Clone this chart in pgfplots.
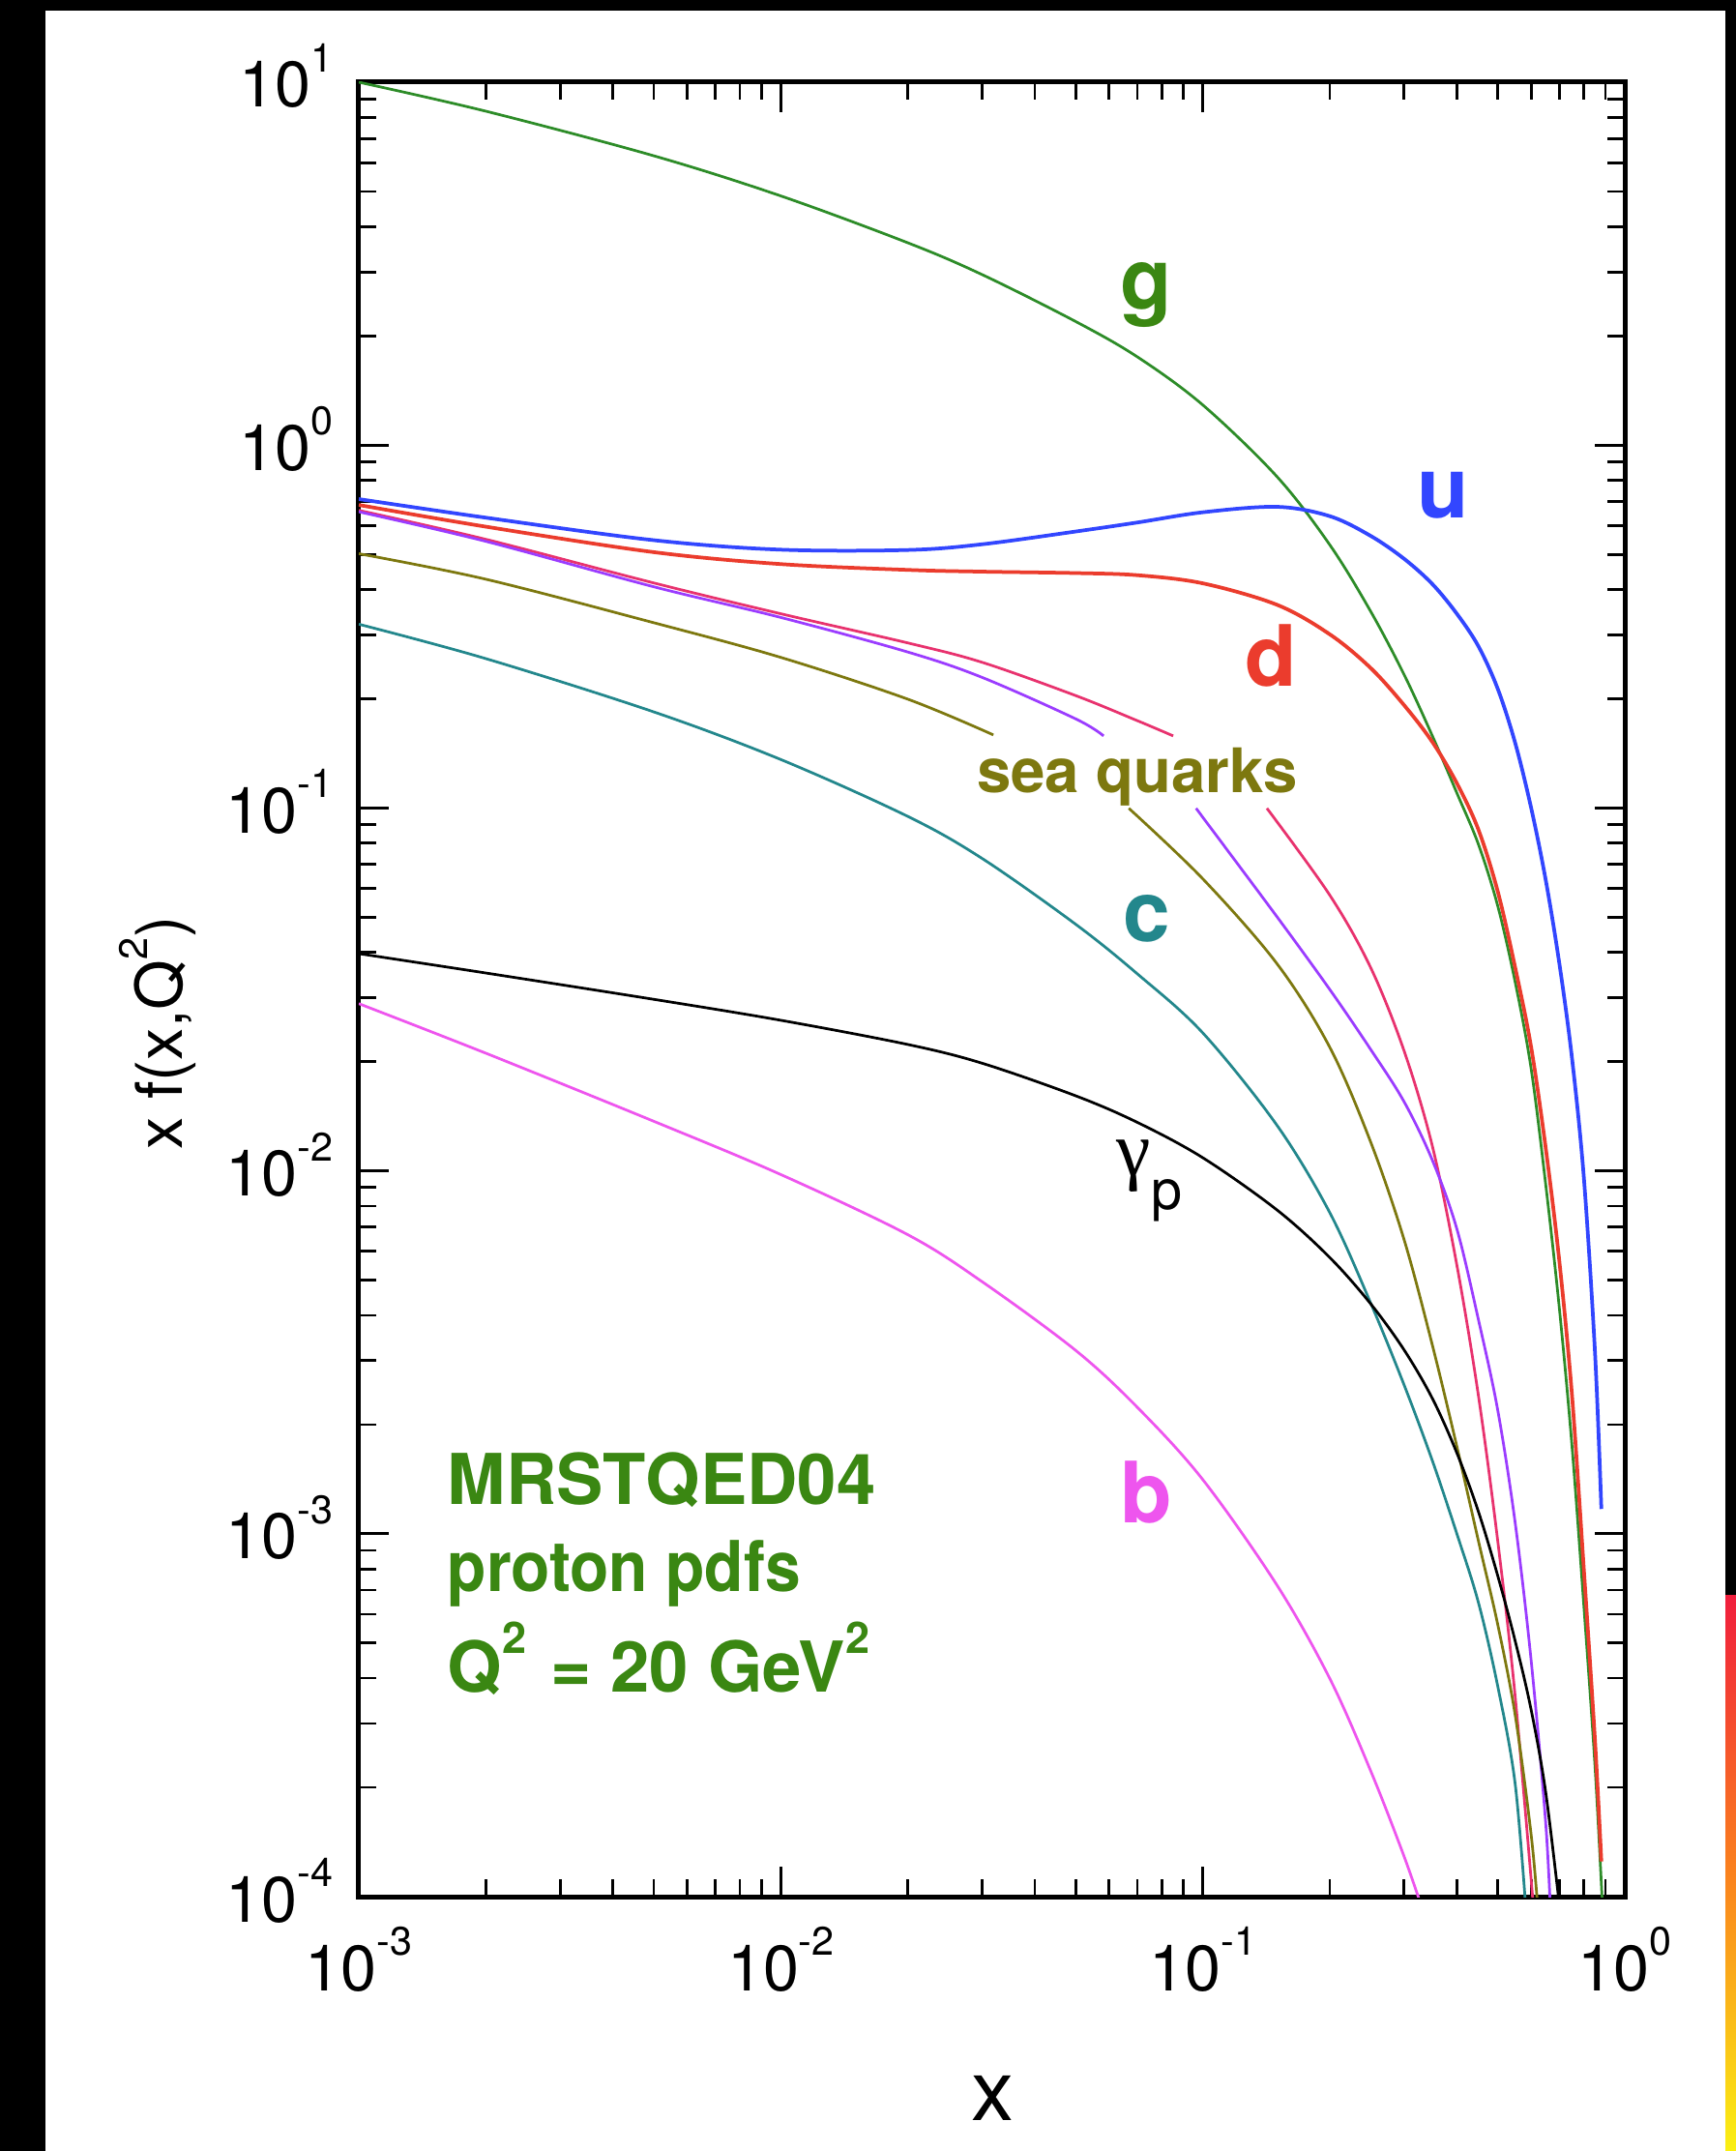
\documentclass[border=0pt]{standalone}
\usepackage{fontspec}
\setmainfont{TeX Gyre Heros}
\newfontfamily\grk{Liberation Serif}
\usepackage{graphicx}
\usepackage{pgfplots}
\pgfplotsset{compat=1.18}
\newcommand{\ex}[1]{\raisebox{0.55em}{\scalebox{0.62}{#1}}}
\definecolor{cg}{RGB}{45,140,40}
\definecolor{cgt}{RGB}{58,135,18}
\definecolor{cu}{RGB}{50,70,255}
\definecolor{cd}{RGB}{235,60,45}
\definecolor{cub}{RGB}{232,50,110}
\definecolor{cdb}{RGB}{155,60,255}
\definecolor{cs}{RGB}{125,120,15}
\definecolor{cc}{RGB}{35,135,140}
\definecolor{cbb}{RGB}{238,85,238}
\definecolor{sR}{RGB}{240,30,60}
\definecolor{sO}{RGB}{250,130,30}
\definecolor{sY}{RGB}{250,240,20}
\begin{document}
\begin{tikzpicture}
\useasboundingbox (0,0) rectangle (359pt,444.8pt);
\fill[black] (0,0) rectangle (359pt,444.8pt);
\fill[white] (9.34pt,0) rectangle (356.8pt,442.66pt);
\shade[top color=sR, bottom color=sY, middle color=sO] (356.8pt,0) rectangle (359pt,114.8pt);
\begin{axis}[
  at={(74.2pt,52.6pt)}, anchor=south west,
  scale only axis, width=261.8pt, height=375.2pt,
  xmode=log, ymode=log,
  xmin=1e-3, xmax=1, ymin=1e-4, ymax=10,
  xtick={0.001,0.01,0.1,1},
  xticklabels={10\ex{-3},10\ex{-2},10\ex{-1},10\ex{0}},
  ytick={1e-4,1e-3,0.01,0.1,1,10},
  yticklabels={10\ex{-4},10\ex{-3},10\ex{-2},10\ex{-1},10\ex{0},10\ex{1}},
  minor xtick={0.002,0.003,0.004,0.005,0.006,0.007,0.008,0.009,0.02,0.03,0.04,0.05,0.06,0.07,0.08,0.09,0.2,0.3,0.4,0.5,0.6,0.7,0.8,0.9},
  minor ytick={2e-4,3e-4,4e-4,5e-4,6e-4,7e-4,8e-4,9e-4,2e-3,3e-3,4e-3,5e-3,6e-3,7e-3,8e-3,9e-3,0.02,0.03,0.04,0.05,0.06,0.07,0.08,0.09,0.2,0.3,0.4,0.5,0.6,0.7,0.8,0.9,2,3,4,5,6,7,8,9},
  tick align=inside,
  major tick length=6.2pt, minor tick length=3.6pt,
  every tick/.style={black, line width=0.55pt},
  axis line style={line width=1pt},
  tick label style={font=\fontsize{13.3}{15}\selectfont},
  xticklabel style={anchor=base, yshift=-19.4pt},
  yticklabel style={anchor=base east, yshift=-5.2pt, xshift=-1.8pt},
  xlabel={x},
  xlabel style={at={(axis description cs:0.501,-0.111)}, anchor=center, font=\fontsize{17.6}{20}\selectfont},
  ylabel={x f(x,Q\ex{2})},
  ylabel style={at={(axis description cs:-0.159,0.476)}, anchor=center, font=\fontsize{13.3}{15}\selectfont},
  every axis plot/.append style={no markers, smooth, tension=0.55, line width=0.55pt},
]
% gluon
\addplot[cg] coordinates {(0.001,10) (0.002,8.32) (0.005,6.27) (0.01,4.86) (0.02,3.61) (0.03,2.95) (0.05,2.19) (0.07,1.75) (0.1,1.29) (0.15,0.818) (0.2,0.531) (0.25,0.348) (0.3,0.233) (0.35,0.158) (0.4,0.110) (0.45,0.0794) (0.5,0.0537) (0.55,0.0331) (0.6,0.0191) (0.65,0.00912) (0.7,0.00417) (0.75,0.00174) (0.8,6.31e-4) (0.85,2.29e-4) (0.885,9.5e-5)};
% u
\addplot[cu, line width=0.75pt] coordinates {(0.001,0.710) (0.002,0.631) (0.005,0.547) (0.01,0.515) (0.02,0.514) (0.03,0.533) (0.05,0.578) (0.07,0.612) (0.1,0.653) (0.15,0.676) (0.2,0.637) (0.25,0.562) (0.3,0.486) (0.35,0.414) (0.4,0.343) (0.45,0.279) (0.5,0.213) (0.55,0.151) (0.6,0.100) (0.65,0.0631) (0.7,0.0372) (0.75,0.0204) (0.8,0.00955) (0.85,0.00316) (0.88,0.00117)};
% d
\addplot[cd, line width=0.75pt] coordinates {(0.001,0.684) (0.002,0.596) (0.005,0.507) (0.01,0.470) (0.02,0.453) (0.03,0.448) (0.05,0.444) (0.07,0.438) (0.1,0.416) (0.15,0.363) (0.2,0.301) (0.25,0.243) (0.3,0.192) (0.35,0.152) (0.4,0.117) (0.45,0.0871) (0.5,0.0589) (0.55,0.0363) (0.6,0.0219) (0.65,0.0115) (0.7,0.00562) (0.75,0.00240) (0.8,7.94e-4) (0.85,2.69e-4) (0.88,1.25e-4)};
% ubar (pink)
\addplot[cub] coordinates {(0.001,0.661) (0.002,0.550) (0.005,0.417) (0.01,0.343) (0.02,0.285) (0.03,0.252) (0.05,0.204) (0.07,0.174) (0.0851,0.158)};
\addplot[cub] coordinates {(0.1419,0.0998) (0.2,0.0575) (0.25,0.0363) (0.3,0.0214) (0.35,0.0117) (0.4,0.00550) (0.45,0.00240) (0.5,9.55e-4) (0.55,3.55e-4) (0.615,7.9e-5)};
% dbar (purple)
\addplot[cdb] coordinates {(0.001,0.655) (0.002,0.543) (0.005,0.407) (0.01,0.335) (0.02,0.269) (0.03,0.229) (0.05,0.176) (0.0582,0.158)};
\addplot[cdb] coordinates {(0.0964,0.0998) (0.15,0.0501) (0.2,0.0316) (0.25,0.0216) (0.3,0.0155) (0.35,0.0107) (0.4,0.00692) (0.45,0.00389) (0.5,0.00219) (0.55,0.00107) (0.6,4.47e-4) (0.65,1.58e-4) (0.67,7.9e-5)};
% strange (olive)
\addplot[cs] coordinates {(0.001,0.502) (0.002,0.427) (0.005,0.324) (0.01,0.260) (0.02,0.1995) (0.0319,0.159)};
\addplot[cs] coordinates {(0.0668,0.0998) (0.1,0.0638) (0.15,0.0372) (0.2,0.0219) (0.25,0.0120) (0.3,0.00646) (0.35,0.00331) (0.4,0.00174) (0.45,9.55e-4) (0.5,5.62e-4) (0.55,3.16e-4) (0.6,1.48e-4) (0.624,8.9e-5)};
% charm
\addplot[cc] coordinates {(0.001,0.321) (0.002,0.258) (0.005,0.184) (0.01,0.136) (0.02,0.0948) (0.03,0.0726) (0.05,0.0478) (0.07,0.0349) (0.1,0.0240) (0.15,0.01334) (0.2,0.00767) (0.25,0.00432) (0.3,0.00257) (0.35,0.00159) (0.4,0.00100) (0.45,6.46e-4) (0.5,3.80e-4) (0.55,2.04e-4) (0.586,8.5e-5)};
% photon
\addplot[black] coordinates {(0.001,0.0397) (0.002,0.0351) (0.005,0.0297) (0.01,0.0260) (0.02,0.0223) (0.03,0.0198) (0.05,0.0161) (0.07,0.0136) (0.1,0.01087) (0.15,0.00780) (0.2,0.00577) (0.25,0.00430) (0.3,0.00321) (0.35,0.00236) (0.4,0.00167) (0.45,0.00115) (0.5,7.66e-4) (0.55,5.06e-4) (0.6,3.27e-4) (0.65,1.93e-4) (0.705,8.8e-5)};
% bottom
\addplot[cbb] coordinates {(0.001,0.0289) (0.002,0.0211) (0.005,0.0137) (0.01,0.00977) (0.02,0.00667) (0.03,0.00495) (0.05,0.00320) (0.07,0.00223) (0.1,0.00141) (0.15,7.21e-4) (0.2,3.99e-4) (0.25,2.22e-4) (0.3,1.29e-4) (0.335,8.9e-5)};
% labels
\node[font=\bfseries\fontsize{17.5}{20}\selectfont, text=cgt] at (axis cs:0.0735,2.59) {g};
\node[font=\bfseries\fontsize{17.5}{20}\selectfont, text=cu] at (axis cs:0.3707,0.728) {u};
\node[font=\bfseries\fontsize{17.5}{20}\selectfont, text=cd] at (axis cs:0.1449,0.263) {d};
\node[font=\bfseries\fontsize{17.5}{20}\selectfont, text=cc] at (axis cs:0.0738,0.0495) {c};
\node[font=\bfseries\fontsize{17.5}{20}\selectfont, text=cbb] at (axis cs:0.0735,0.0013) {b};
\node[font=\bfseries\fontsize{12.7}{15}\selectfont, text=cs, anchor=base west, inner sep=0] at (axis cs:0.029,0.110) {sea quarks};
\node[anchor=base west, inner sep=0] at (axis cs:0.0623,0.00973) {{\grk\fontsize{16}{18}\selectfont γ}\raisebox{-7pt}{\fontsize{11.5}{13}\selectfont p}};
\node[font=\bfseries\fontsize{14.5}{17}\selectfont, text=cgt, anchor=base west, inner sep=0] at (axis cs:0.001614,0.001208) {MRSTQED04};
\node[font=\bfseries\fontsize{14.5}{17}\selectfont, text=cgt, anchor=base west, inner sep=0] at (axis cs:0.001614,6.92e-4) {\scalebox{0.91}[1]{proton pdfs}};
\node[font=\bfseries\fontsize{14.5}{17}\selectfont, text=cgt, anchor=base west, inner sep=0] at (axis cs:0.001614,3.67e-4) {Q\ex{2}\hspace{1pt} = 20 GeV\ex{2}};
\end{axis}
\end{tikzpicture}
\end{document}
